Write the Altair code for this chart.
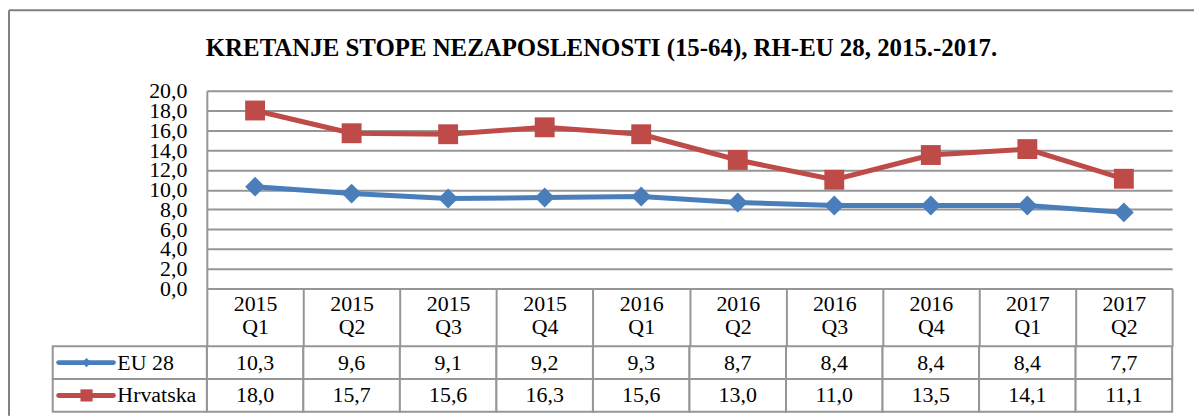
import altair as alt
import pandas as pd

quarters = ["2015 Q1", "2015 Q2", "2015 Q3", "2015 Q4", "2016 Q1",
            "2016 Q2", "2016 Q3", "2016 Q4", "2017 Q1", "2017 Q2"]
eu28 = [10.3, 9.6, 9.1, 9.2, 9.3, 8.7, 8.4, 8.4, 8.4, 7.7]
hrvatska = [18.0, 15.7, 15.6, 16.3, 15.6, 13.0, 11.0, 13.5, 14.1, 11.1]
series_names = ["EU 28", "Hrvatska"]
series_colors = ["#4A7EBB", "#BE4B48"]
series_shapes = ["diamond", "square"]
y_ticks = [0, 2, 4, 6, 8, 10, 12, 14, 16, 18, 20]
title_text = "KRETANJE STOPE NEZAPOSLENOSTI (15-64), RH-EU 28, 2015.-2017."

rows = []
for name, vals in zip(series_names, [eu28, hrvatska]):
    for q, v in zip(quarters, vals):
        rows.append({"q": q, "series": name, "value": v,
                     "label": f"{v:.1f}".replace(".", ",")})
df = pd.DataFrame(rows)
legend_df = pd.DataFrame({"series": series_names})
one = pd.DataFrame({"k": [0]})

FONT = "Liberation Serif"
GRID = "#969696"
W, H = 971, 199
FS = 22

xscale = alt.Scale(type="band", domain=quarters, paddingInner=0, paddingOuter=0)
color = alt.Color("series:N", scale=alt.Scale(domain=series_names, range=series_colors), legend=None)
shape = alt.Shape("series:N", scale=alt.Scale(domain=series_names, range=series_shapes), legend=None)

x_top = alt.X("q:N", scale=xscale, sort=quarters,
              axis=alt.Axis(title=None, orient="bottom",
                            labelExpr="split(datum.label, ' ')", labelAngle=0,
                            labelFont=FONT, labelFontSize=FS, labelColor="black",
                            labelLineHeight=23, labelBaseline="top", labelPadding=-53,
                            tickBand="extent", tickSize=58, tickColor=GRID, tickWidth=2,
                            domainColor=GRID, domainWidth=2, grid=False))
y_top = alt.Y("value:Q", scale=alt.Scale(domain=[0, 20], nice=False),
              axis=alt.Axis(title=None, values=y_ticks,
                            labelExpr="replace(format(datum.value, '.1f'), '.', ',')",
                            labelFont=FONT, labelFontSize=FS, labelColor="black",
                            labelOverlap=False, labelFlush=False, labelPadding=20,
                            ticks=False, domainColor=GRID, domainWidth=2,
                            gridColor=GRID, gridWidth=2))

frame_top = alt.Chart(one).mark_rule(color="#808080", strokeWidth=2).encode(
    x=alt.value(-199), x2=alt.value(993), y=alt.value(-81))
frame_left = alt.Chart(one).mark_rule(color="#808080", strokeWidth=2).encode(
    x=alt.value(-199), y=alt.value(-81), y2=alt.value(327))
title = alt.Chart(one).mark_text(font=FONT, fontSize=25, fontWeight="bold",
                                 align="center", baseline="alphabetic", color="black").encode(
    x=alt.value(397), y=alt.value(-35), text=alt.value(title_text))

lines = alt.Chart(df).mark_line(strokeWidth=5).encode(x=x_top, y=y_top, color=color, detail="series:N")
points = alt.Chart(df).mark_point(filled=True, opacity=1, size=400).encode(
    x=x_top, y=y_top, color=color, shape=shape)

top = alt.layer(frame_top, frame_left, title, lines, points).properties(width=W, height=H)

row_scale = alt.Scale(type="band", domain=series_names, paddingInner=0, paddingOuter=0)
x_bot = alt.X("q:N", scale=xscale, sort=quarters, axis=None)
y_bot = alt.Y("series:N", scale=row_scale, axis=None)
y_mid = alt.Y("series:N", scale=row_scale, axis=None, bandPosition=0.5)

cells = alt.Chart(df).mark_rect(fill="white", stroke=GRID, strokeWidth=2).encode(x=x_bot, y=y_bot)
texts = alt.Chart(df).mark_text(font=FONT, fontSize=FS, color="black").encode(
    x=x_bot, y=y_mid, text="label:N")
leg_cells = alt.Chart(legend_df).mark_rect(fill="white", stroke=GRID, strokeWidth=2).encode(
    x=alt.value(-155), x2=alt.value(0), y=y_bot)
leg_lines = alt.Chart(legend_df).mark_rule(strokeWidth=5, strokeCap="round").encode(
    x=alt.value(-149), x2=alt.value(-94), y=y_mid, color=color)
leg_points = alt.Chart(legend_df).mark_point(filled=True, opacity=1).encode(
    x=alt.value(-121), y=y_mid, color=color, shape=shape,
    size=alt.Size("series:N", scale=alt.Scale(domain=series_names, range=[90, 150]), legend=None))
leg_text = alt.Chart(legend_df).mark_text(font=FONT, fontSize=FS, align="left", color="black").encode(
    x=alt.value(-90), y=y_mid, text="series:N")

bottom = alt.layer(cells, texts, leg_cells, leg_lines, leg_points, leg_text).properties(width=W, height=66)

chart = alt.vconcat(top, bottom, spacing=58, bounds="flush").resolve_scale(
    x="independent", y="independent", color="independent", shape="independent", size="independent"
).configure_view(stroke=None).properties(padding=0, background="white")

chart.save("out.html", embed_options={"renderer": "svg", "actions": False})
